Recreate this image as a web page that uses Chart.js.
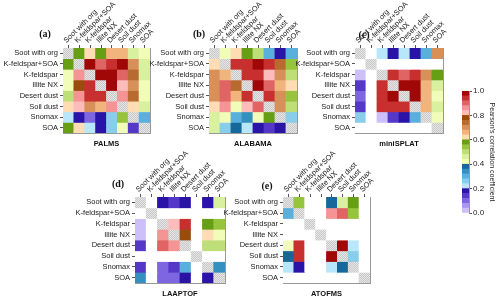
<!DOCTYPE html>
<html><head><meta charset="utf-8">
<script src="https://cdn.jsdelivr.net/npm/chart.js@4"></script>
<style>
html,body{margin:0;padding:0;background:#fff;width:500px;height:301px;overflow:hidden;position:relative;}
canvas{position:absolute;}
.lab{position:absolute;font:bold 10px "Liberation Serif","DejaVu Serif",serif;color:#111;transform:translate(-50%,-50%);white-space:nowrap;}
</style></head><body>
<canvas id="ca"></canvas><canvas id="cb"></canvas><canvas id="cc"></canvas><canvas id="cd"></canvas><canvas id="ce"></canvas><canvas id="cbar"></canvas>
<div class="lab" style="left:45px;top:33px">(a)</div>
<div class="lab" style="left:199px;top:33px">(b)</div>
<div class="lab" style="left:364px;top:34px">(c)</div>
<div class="lab" style="left:118px;top:183px">(d)</div>
<div class="lab" style="left:267px;top:185px">(e)</div>
<script>
const species = ['Soot with org','K-feldspar+SOA','K-feldspar','Illite NX','Desert dust','Soil dust','Snomax','SOA'];
const N = null;
// Pearson correlation matrices (row = y species, col = x species); diagonal = 1, null = not available
const palms = [
  [1, .57, .62, .57, .66, .66, .46, .42],
  [.57, 1, .98, .90, .94, .98, .70, .46],
  [.42, .86, 1, .98, .98, .90, .74, .46],
  [.42, .78, .94, 1, .98, .82, .70, .42],
  [.50, .86, .94, .94, 1, .86, .74, .42],
  [.62, .82, .70, .66, .86, 1, .62, .46],
  [.22, .18, .10, .18, .26, .54, 1, .30],
  [.57, .62, .22, .18, .26, .42, .14, 1]
];
const alabama = [
  [1, .42, .62, .58, .50, .30, .18, .30],
  [.62, 1, .94, .94, .98, .94, .74, .54],
  [.70, .66, 1, .94, .94, .82, .70, .50],
  [.70, .90, .74, 1, .98, .90, .66, .62],
  [.70, .90, .66, .94, 1, .94, .70, .54],
  [.62, .86, .42, .82, .90, 1, .70, .50],
  [.46, .42, .30, .34, .42, .58, 1, .26],
  [.46, .26, .38, .22, .18, .15, .18, 1]
];
const minisplat = [
  [1, N, .22, .18, .22, .18, .30, .70],
  [N, 1, N, N, N, N, N, N],
  [.02, N, 1, .94, .90, .94, .70, .58],
  [.14, N, .94, 1, .98, .98, .66, .46],
  [.10, N, .94, .98, 1, .98, .66, .42],
  [.14, N, .94, .94, .94, 1, .66, .46],
  [.26, N, .02, .14, .16, .30, 1, .42],
  [N, N, N, N, N, N, N, 1]
];
const laaptof = [
  [1, N, .18, .15, .18, N, .18, .46],
  [N, 1, N, N, N, N, N, N],
  [.02, N, 1, .82, .94, N, .58, .54],
  [.02, N, .86, 1, .78, N, .62, .42],
  [.14, N, .90, .86, 1, N, .50, .50],
  [N, N, N, N, N, 1, N, N],
  [.14, N, .10, .14, .30, N, 1, .34],
  [.34, N, .10, .10, .18, N, .16, 1]
];
const atofms = [
  [1, .54, N, N, .38, .46, .58, N],
  [.30, 1, N, N, .86, .90, .54, N],
  [N, N, 1, N, N, N, N, N],
  [N, N, N, 1, N, N, N, N],
  [.42, .94, N, N, 1, .98, .22, N],
  [.38, .94, N, N, .98, 1, .26, N],
  [.22, .18, N, N, .22, .38, 1, N],
  [N, N, N, N, N, N, N, 1]
];
const cbTicks = [0, 0.2, 0.4, 0.6, 0.8, 1.0];
const palette = [
  '#cdc0fa','#a996f0','#7e66e0','#5538c8','#2a14a8',
  '#b8e6fa','#88cdea','#5ab0dc','#3590c0','#16689a',
  '#f0fcb8','#d8f0a0','#bede78','#96c43c','#669e14',
  '#ffdcb4','#f0b47c','#d8905a','#b86a30','#9a4c0c',
  '#fcbcbc','#f49494','#e06464','#c83030','#a00808'
];

Chart.defaults.font.family = "'Liberation Sans', Arial, sans-serif";
Chart.defaults.color = '#222';

function colorOf(v){
  if (v === null || v === undefined) return '#ffffff';
  let i = Math.floor(v * palette.length);
  if (i >= palette.length) i = palette.length - 1;
  if (i < 0) i = 0;
  return palette[i];
}
const pc = document.createElement('canvas'); pc.width = 2; pc.height = 2;
const px = pc.getContext('2d');
px.fillStyle = '#e6e6e6'; px.fillRect(0,0,2,2);
px.fillStyle = '#c8c8c8'; px.fillRect(0,0,1,1); px.fillRect(1,1,1,1);
const hatch = px.createPattern(pc, 'repeat');

const YW = 63, XH = 48, RW = 45, BH = 15;
const FS = 7.5;

function panel(id, vals, title, mLeft, mTop, mw, mh){
  const cv = document.getElementById(id);
  cv.width = YW + mw + RW; cv.height = XH + mh + BH;
  cv.style.left = (mLeft - YW) + 'px'; cv.style.top = (mTop - XH) + 'px';
  const datasets = species.map((row, r) => ({
    label: row,
    data: species.map(() => 1),
    backgroundColor: vals[r].map((v, c) => r === c ? hatch : colorOf(v)),
    borderWidth: 0, barPercentage: 1, categoryPercentage: 1, inflateAmount: 0.4
  }));
  new Chart(cv, {
    type: 'bar',
    data: { labels: species, datasets },
    options: {
      responsive: false, animation: false, devicePixelRatio: 1,
      plugins: { legend: {display: false}, tooltip: {enabled: false} },
      layout: { padding: 0 },
      scales: {
        x: { position: 'top', stacked: true, offset: true, z: 1,
             grid: { offset: false, drawOnChartArea: false, tickLength: 3, color: '#555' },
             border: { display: true, color: '#999' },
             ticks: { autoSkip: false, minRotation: 45, maxRotation: 45, padding: 0, labelOffset: 3, font: {size: FS}, color: '#222' },
             afterFit: s => { s.height = XH; } },
        x2: { type: 'category', labels: species, position: 'bottom', offset: true, z: 1,
             grid: { display: false }, ticks: { display: false },
             border: { display: true, color: '#999' },
             title: { display: true, text: title, padding: 0, color: '#111', font: {size: FS, weight: 'bold'} },
             afterFit: s => { s.height = BH; } },
        y: { type: 'linear', position: 'left', stacked: true, reverse: true, min: 0, max: 8, z: 1,
             grid: { drawOnChartArea: false, tickLength: 3, color: '#555' },
             border: { display: true, color: '#999' },
             afterBuildTicks: s => { s.ticks = species.map((_, i) => ({value: i + 0.5})); },
             ticks: { autoSkip: false, padding: 2, font: {size: FS}, color: '#222',
                      callback: v => species[Math.floor(v)] },
             afterFit: s => { s.width = YW; } },
        y2: { type: 'linear', position: 'right', min: 0, max: 8, z: 1,
             grid: { display: false }, ticks: { display: false },
             border: { display: true, color: '#999' },
             afterFit: s => { s.width = RW; } }
      }
    }
  });
}
panel('ca', palms, 'PALMS', 63, 48, 87, 85);
panel('cb', alabama, 'ALABAMA', 209, 48, 88, 85);
panel('cc', minisplat, 'miniSPLAT', 355, 48, 88, 85);
panel('cd', laaptof, 'LAAPTOF', 135, 197, 90, 86);
panel('ce', atofms, 'ATOFMS', 283, 197, 87, 86);

// colour bar
(function(){
  const cv = document.getElementById('cbar');
  cv.width = 60; cv.height = 150; cv.style.left = '440px'; cv.style.top = '80px';
  const step = 1 / palette.length;
  new Chart(cv, {
    type: 'bar',
    data: { labels: [''], datasets: palette.map(c => ({ data: [step], backgroundColor: c, borderWidth: 0,
      barPercentage: 1, categoryPercentage: 1, inflateAmount: 0.3 })) },
    options: {
      responsive: false, animation: false, devicePixelRatio: 1,
      plugins: { legend: {display: false}, tooltip: {enabled: false} },
      layout: { padding: { left: 22, top: 11, bottom: 17, right: 0 } },
      scales: {
        x: { display: false, stacked: true },
        y: { position: 'right', stacked: true, min: 0, max: 1, z: 1,
             grid: { drawOnChartArea: false, tickLength: 3, color: '#555' },
             border: { display: true, color: '#999' },
             afterBuildTicks: s => { s.ticks = cbTicks.map(v => ({value: v})); },
             ticks: { padding: 1, font: {size: 8}, color: '#222', callback: v => v.toFixed(1) },
             title: { display: true, text: "Pearson's correlation coefficient", color: '#222', font: {size: 7}, padding: {top: 4, bottom: 4} },
             afterFit: s => { s.width = 31; } }
      }
    }
  });
})();
</script>
</body></html>
